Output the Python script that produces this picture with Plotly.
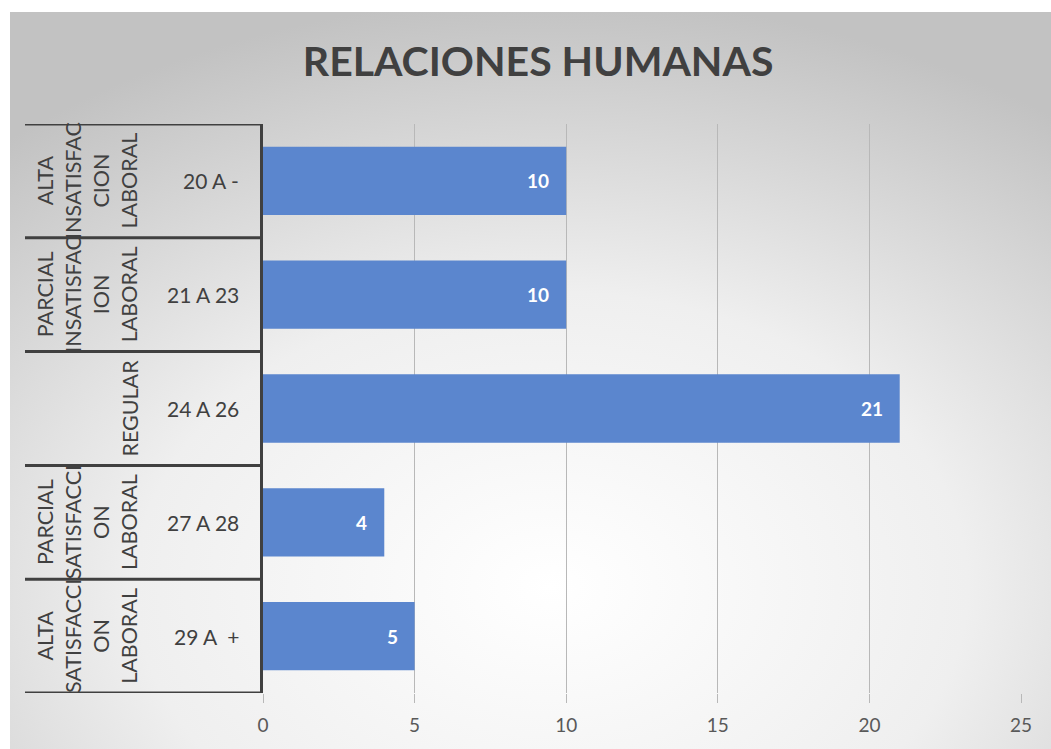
import base64
import plotly.graph_objects as go

# Data (top to bottom)
rangos = ["20 A -", "21 A 23", "24 A 26", "27 A 28", "29 A  +"]
niveles = [
    "ALTA<br>INSATISFAC<br>CION<br>LABORAL",
    "PARCIAL<br>INSATISFAC<br>ION<br>LABORAL",
    "REGULAR",
    "PARCIAL<br>SATISFACCI<br>ON<br>LABORAL",
    "ALTA<br>SATISFACCI<br>ON<br>LABORAL",
]
valores = [10, 10, 21, 4, 5]
x_ticks = [0, 5, 10, 15, 20, 25]

W, H = 1051, 749
ML, MR, MT, MB = 263, 30, 124, 56
pw, ph = W - ML - MR, H - MT - MB


def px_x(px):
    return (px - ML) / pw


def px_y(py):
    return (H - MB - py) / ph


# radial grey gradient as the chart background
svg = f"""<svg xmlns='http://www.w3.org/2000/svg' width='{W}' height='{H}' viewBox='0 0 {W} {H}' preserveAspectRatio='none'>
<defs><radialGradient id='g' cx='0.52' cy='0.78' r='0.8'>
<stop offset='0' stop-color='#ffffff'/><stop offset='0.5' stop-color='#efefef'/>
<stop offset='1' stop-color='#c2c2c2'/></radialGradient></defs>
<rect width='100%' height='100%' fill='url(#g)'/></svg>"""
bg = "data:image/svg+xml;base64," + base64.b64encode(svg.encode()).decode()

fig = go.Figure()
fig.add_trace(go.Bar(
    y=rangos, x=valores, orientation="h",
    marker=dict(color="#5B86CE", line=dict(width=0)),
    hoverinfo="x+y",
))

# background image from (10, 12) px to the lower right corner
fig.add_layout_image(dict(
    source=bg, xref="paper", yref="paper",
    x=px_x(10), y=px_y(12), sizex=(W - 10) / pw, sizey=(H - 12) / ph,
    xanchor="left", yanchor="top", sizing="stretch", layer="below",
))

# table lines of the category labels
shapes = []
for i in range(len(rangos) + 1):
    shapes.append(dict(type="line", xref="paper", yref="y",
                       x0=px_x(25), x1=0, y0=i - 0.5, y1=i - 0.5,
                       line=dict(color="#404040", width=3)))

annotations = []
for i, (r, n, v) in enumerate(zip(rangos, niveles, valores)):
    annotations.append(dict(text=r, xref="paper", yref="y", x=px_x(241), y=i,
                            xanchor="right", yanchor="middle", showarrow=False,
                            font=dict(family="Lato", size=21, color="#404040")))
    annotations.append(dict(text=n, xref="paper", yref="y", x=px_x(144), y=i,
                            xanchor="right", yanchor="middle", showarrow=False,
                            textangle=-90, align="center",
                            font=dict(family="Lato", size=21.5, color="#404040")))
    # data label, inside the end of the bar
    annotations.append(dict(text=f"<b>{v}</b>", xref="x", yref="y", x=v, y=i,
                            xanchor="right", yanchor="middle", xshift=-15,
                            showarrow=False,
                            font=dict(family="Lato", size=19, color="white")))

fig.update_layout(
    width=W, height=H,
    margin=dict(l=ML, r=MR, t=MT, b=MB),
    paper_bgcolor="white", plot_bgcolor="rgba(0,0,0,0)",
    title=dict(text="<b>RELACIONES HUMANAS</b>", x=0.512, xanchor="center",
               y=1 - 62 / H, yanchor="middle",
               font=dict(family="Lato", size=41, color="#404040")),
    bargap=0.40,
    showlegend=False,
    shapes=shapes,
    annotations=annotations,
)
fig.update_xaxes(range=[0, 25], tickvals=x_ticks, showgrid=True,
                 gridcolor="#b8b8b8", gridwidth=1, zeroline=False,
                 ticks="outside", ticklen=9, tickcolor="#b8b8b8",
                 ticklabelstandoff=6,
                 tickfont=dict(family="Lato", size=19, color="#595959"),
                 showline=False)
fig.update_yaxes(range=[len(rangos) - 0.5, -0.5], showticklabels=False,
                 showgrid=False, showline=True, linecolor="#404040",
                 linewidth=3, ticks="")

fig.write_html("out.html", config={"displayModeBar": False},
               post_script="document.body.style.margin='0';")
